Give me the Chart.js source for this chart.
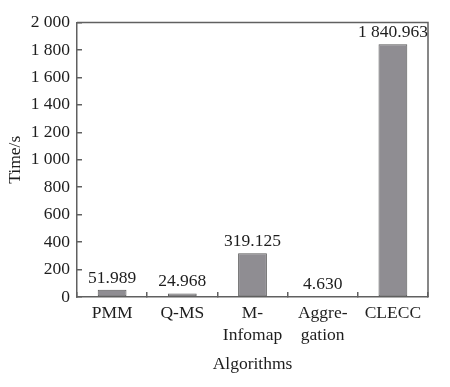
<!DOCTYPE html>
<html>
<head>
<meta charset="utf-8">
<script src="https://cdn.jsdelivr.net/npm/chart.js@4"></script>
<style>
html,body{margin:0;padding:0;background:#fff;}
#wrap{width:450px;height:387px;}
</style>
</head>
<body>
<div id="wrap"><canvas id="c" width="450" height="387"></canvas></div>
<script>
const categories = [['PMM'], ['Q-MS'], ['M-', 'Infomap'], ['Aggre-', 'gation'], ['CLECC']];
const timeValues = [51.989, 24.968, 319.125, 4.630, 1840.963];
const yTicks = [0, 200, 400, 600, 800, 1000, 1200, 1400, 1600, 1800, 2000];

const FONT = "'Liberation Serif', 'Times New Roman', serif";
const AXIS = '#606060';
const TEXT = '#1e1e1e';

function fmtThousands(v, decimals) {
  const s = decimals != null ? v.toFixed(decimals) : String(v);
  const parts = s.split('.');
  parts[0] = parts[0].replace(/\B(?=(\d{3})+(?!\d))/g, ' ');
  return parts.join('.');
}

const boxPlugin = {
  id: 'boxPlugin',
  afterDatasetsDraw(chart) {
    const {ctx, chartArea: a} = chart;
    ctx.save();
    ctx.strokeStyle = AXIS;
    ctx.lineWidth = 1.5;
    ctx.beginPath();
    ctx.moveTo(a.left, a.top);
    ctx.lineTo(a.right, a.top);
    ctx.lineTo(a.right, a.bottom);
    ctx.stroke();
    // value labels
    const meta = chart.getDatasetMeta(0);
    ctx.fillStyle = TEXT;
    ctx.font = "17.5px " + FONT;
    ctx.textAlign = 'center';
    ctx.textBaseline = 'bottom';
    meta.data.forEach((bar, i) => {
      ctx.fillText(fmtThousands(timeValues[i], 3), bar.x, bar.y - 3);
    });
    ctx.restore();
  }
};

new Chart(document.getElementById('c'), {
  type: 'bar',
  data: {
    labels: categories,
    datasets: [{
      data: timeValues,
      backgroundColor: '#8f8d92',
      borderColor: '#5a5a5a',
      borderWidth: 1,
      borderSkipped: false,
      categoryPercentage: 1,
      barPercentage: 0.41
    }]
  },
  options: {
    responsive: false,
    animation: false,
    devicePixelRatio: 1,
    layout: {padding: {left: 0, right: 22, top: 20, bottom: 12}},
    plugins: {legend: {display: false}, tooltip: {enabled: false}},
    scales: {
      x: {
        grid: {display: true, drawOnChartArea: false, drawTicks: true, tickLength: -5, color: AXIS, lineWidth: 1.5, offset: true},
        border: {display: true, color: AXIS, width: 1.5},
        ticks: {color: TEXT, font: {family: FONT, size: 17.5, lineHeight: 1.28}, padding: 10, maxRotation: 0, autoSkip: false},
        title: {display: true, text: 'Algorithms', color: TEXT, font: {family: FONT, size: 17.5, lineHeight: 1.2}, padding: {top: 0, bottom: 0}},
        afterFit(scale) { scale.height = 387 - 297 - 12; }
      },
      y: {
        min: 0, max: 2000,
        afterBuildTicks(scale) { scale.ticks = yTicks.map(v => ({value: v})); },
        grid: {display: true, drawOnChartArea: false, drawTicks: true, tickLength: -5, color: AXIS, lineWidth: 1.5},
        border: {display: true, color: AXIS, width: 1.5},
        ticks: {color: TEXT, font: {family: FONT, size: 17.5}, padding: 12, callback: v => fmtThousands(v)},
        title: {display: true, text: 'Time/s', color: TEXT, font: {family: FONT, size: 17.5, lineHeight: 1.2}, padding: {top: 5, bottom: 0}},
        afterFit(scale) { scale.width = 77; }
      }
    }
  },
  plugins: [boxPlugin]
});
</script>
</body>
</html>
